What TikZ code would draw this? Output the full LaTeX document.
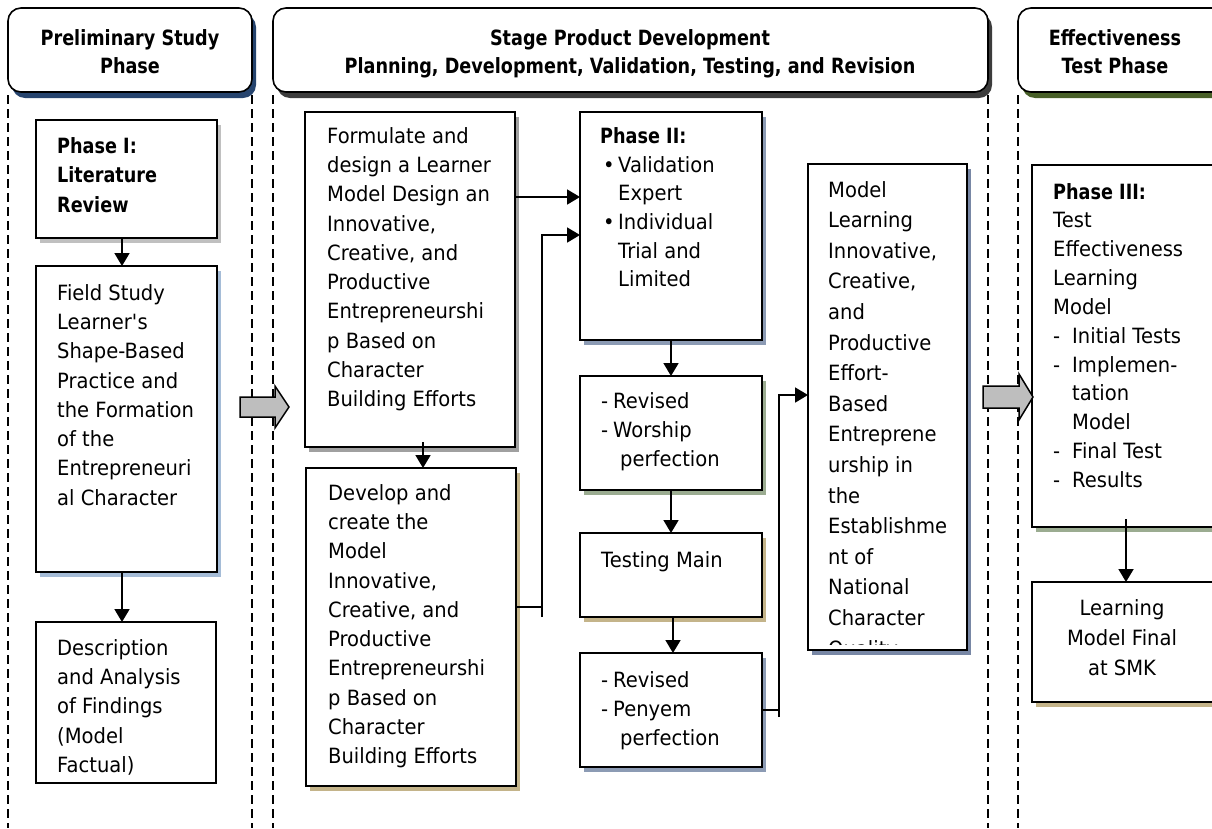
\documentclass[tikz,border=0pt]{standalone}
\usepackage{fontspec}
\setmainfont{DejaVu Sans}[FakeStretch=0.93]
\newfontfamily\hdrfont{DejaVu Sans}[FakeStretch=0.84]
\usetikzlibrary{calc,arrows.meta}
\definecolor{shNavy}{RGB}{38,68,110}
\definecolor{shDark}{RGB}{60,60,60}
\definecolor{shGreen}{RGB}{72,96,40}
\definecolor{shGray}{RGB}{192,192,192}
\definecolor{shMid}{RGB}{160,160,160}
\definecolor{shBlue}{RGB}{165,188,215}
\definecolor{shTan}{RGB}{196,180,138}
\definecolor{shSlate}{RGB}{140,155,180}
\definecolor{shSlateD}{RGB}{120,135,165}
\definecolor{shSage}{RGB}{155,172,145}
\definecolor{arrgray}{RGB}{190,190,190}
\newcommand\plainbox[6]{%
  \fill[#6] (#2+4,#3+5) rectangle (#4+4,#5+5);
  \node[box, minimum width={#4pt-#2pt}, minimum height={#5pt-#3pt}] (#1) at (#2,#3) {};}
\newcommand\headbox[6]{%
  \fill[#6, rounded corners=13pt] (#2+4,#3+6) rectangle (#4+4,#5+6);
  \node[box, rounded corners=13pt, minimum width={#4pt-#2pt}, minimum height={#5pt-#3pt}] (#1) at (#2,#3) {};}
\begin{document}
\begin{tikzpicture}[x=1pt,y=-1pt,
  box/.style={draw, line width=1.6pt, fill=white, inner sep=0pt, outer sep=0pt, anchor=north west},
  txt/.style={anchor=north west, inner sep=0pt, align=left, font=\fontsize{21}{29.3}\selectfont},
  btxt/.style={anchor=north west, inner sep=0pt, align=left, font=\fontsize{21}{29.5}\selectfont\hdrfont\bfseries},
  htxt/.style={anchor=north, inner sep=0pt, align=center, font=\fontsize{21}{28}\selectfont\hdrfont\bfseries},
  arr/.style={line width=1.8pt, -{Triangle[length=13pt,width=15pt]}},
  ln/.style={line width=1.8pt},
  dsh/.style={line width=1.3pt, dash pattern=on 9pt off 5pt},
  garr/.style={draw, line width=1.5pt, fill=arrgray, line join=miter}
]
\useasboundingbox (0,0) rectangle (1212,828);
\clip (0,0) rectangle (1212,828);
\fill[white] (0,0) rectangle (1212,828);

% headers
\headbox{h1}{8}{8}{252}{92}{shNavy}
\headbox{h2}{273}{8}{988}{92}{shDark}
\headbox{h3}{1018}{8}{1240}{92}{shGreen}
\node[htxt] (h1t) at (130,29) {Preliminary Study\\Phase};
\node[htxt] (h2t) at (630,29) {Stage Product Development\\Planning, Development, Validation, Testing, and Revision};
\node[htxt] (h3t) at (1115,29) {Effectiveness\\Test Phase};

% dashed separators
\draw[dsh] ([yshift=-3pt]h1.south west) -- (h1.south west |- 0,828);
\draw[dsh] ([yshift=-3pt]h1.south east) -- (h1.south east |- 0,828);
\draw[dsh] ([yshift=-3pt]h2.south west) -- (h2.south west |- 0,828);
\draw[dsh] ([yshift=-3pt]h2.south east) -- (h2.south east |- 0,828);
\draw[dsh] ([yshift=-3pt]h3.south west) -- (h3.south west |- 0,828);

% left column
\plainbox{p1}{36}{120}{217}{238}{shGray}
\node[btxt] (p1t) at (57,137) {Phase I:\\Literature\\Review};
\plainbox{fs}{36}{266}{217}{572}{shBlue}
\node[txt] (fst) at (57,284) {Field Study\\Learner\textquotesingle s\\Shape-Based\\Practice and\\the Formation\\of the\\Entrepreneuri\\al Character};
\plainbox{da}{36}{622}{216}{783}{white}
\node[txt] (dat) at (57,639) {Description\\and Analysis\\of Findings\\(Model\\Factual)};

% middle column 1
\plainbox{fo}{305}{112}{515}{447}{shMid}
\node[txt] (fot) at (327,127) {Formulate and\\design a Learner\\Model Design an\\Innovative,\\Creative, and\\Productive\\Entrepreneurshi\\p Based on\\Character\\Building Efforts};
\plainbox{dv}{306}{468}{516}{786}{shTan}
\node[txt] (dvt) at (328,484) {Develop and\\create the\\Model\\Innovative,\\Creative, and\\Productive\\Entrepreneurshi\\p Based on\\Character\\Building Efforts};

% middle column 2
\plainbox{p2}{580}{112}{762}{340}{shSlate}
\node[btxt] (p2t) at (600,127) {Phase II:};
\node[txt, font=\fontsize{21}{28.7}\selectfont] (p2b) at (603,156) {\makebox[15pt][l]{•}Validation\\\hspace*{15pt}Expert\\\makebox[15pt][l]{•}Individual\\\hspace*{15pt}Trial and\\\hspace*{15pt}Limited};
\plainbox{rv}{580}{376}{762}{490}{shSage}
\node[txt] (rvt) at (601,392) {\makebox[12pt][l]{-}Revised\\\makebox[12pt][l]{-}Worship\\\hspace*{19pt}perfection};
\plainbox{tm}{580}{533}{762}{617}{shTan}
\node[txt] (tmt) at (601,551) {Testing Main};
\plainbox{pn}{580}{653}{762}{767}{shSlate}
\node[txt] (pnt) at (601,671) {\makebox[12pt][l]{-}Revised\\\makebox[12pt][l]{-}Penyem\\\hspace*{19pt}perfection};

% middle column 3
\plainbox{ml}{808}{164}{967}{650}{shSlateD}
\begin{scope}
\clip (808,164) rectangle (967,644);
\node[txt, font=\fontsize{21}{30.6}\selectfont] (mlt) at (828,181) {Model\\Learning\\Innovative,\\Creative,\\and\\Productive\\Effort-\\Based\\Entreprene\\urship in\\the\\Establishme\\nt of\\National\\Character\\Quality};
\end{scope}

% right column
\plainbox{p3}{1032}{165}{1240}{527}{shSage}
\node[btxt] (p3t) at (1053,183) {Phase III:};
\node[txt, font=\fontsize{21}{28.9}\selectfont] (p3b) at (1053,212) {Test\\Effectiveness\\Learning\\Model\\\makebox[19pt][l]{-}Initial Tests\\\makebox[19pt][l]{-}Implemen-\\\hspace*{19pt}tation\\\hspace*{19pt}Model\\\makebox[19pt][l]{-}Final Test\\\makebox[19pt][l]{-}Results};
\plainbox{lf}{1032}{582}{1240}{702}{shTan}
\node[txt, anchor=north, align=center, font=\fontsize{21}{30}\selectfont] (lft) at (1122,599) {Learning\\Model Final\\at SMK};

% connectors
\path ([xshift=-4.5pt]p1.south) coordinate (c1);
\draw[arr] (c1) -- (c1 |- fs.north);
\path ([xshift=-4.5pt]fs.south) coordinate (c2);
\draw[arr] (c2) -- (c2 |- da.north);
\path ([xshift=13pt]fo.south) coordinate (c3);
\draw[arr] ([yshift=5pt]c3) -- (c3 |- dv.north);
\draw[arr] (p2.south) -- (rv.north);
\draw[arr] (rv.south) -- (tm.north);
\path ([xshift=2pt]tm.south) coordinate (c4);
\draw[arr] (c4) -- (c4 |- pn.north);
\path ([xshift=-10pt]p3.south) coordinate (c5);
\draw[arr] ([yshift=8pt]c5) -- (c5 |- lf.north);

\path ([yshift=-85pt]fo.north east) coordinate (c6);
\draw[arr] (c6) -- (c6 -| p2.west);
\path ([yshift=-139pt]dv.north east) coordinate (c7);
\coordinate (j1) at (542,617);
\path ([yshift=-123pt]p2.north west) coordinate (c8);
\draw[ln] (c7) -- (c7 -| j1);
\draw[arr] (j1) |- (c8);
\path ([yshift=-57pt]pn.north east) coordinate (c9);
\coordinate (j2) at (779,717);
\path ([yshift=-231pt]ml.north west) coordinate (c10);
\draw[ln] (c9) -- (c9 -| j2);
\draw[arr] (j2) |- (c10);

% big grey arrows
\draw[garr] (240,397) -- (275,397) -- (275,386) -- (289,407) -- (275,428) -- (275,417) -- (240,417) -- cycle;
\draw[garr] (983,386) -- (1019,386) -- (1019,374) -- (1033,397) -- (1019,420) -- (1019,408) -- (983,408) -- cycle;
\end{tikzpicture}
\end{document}
